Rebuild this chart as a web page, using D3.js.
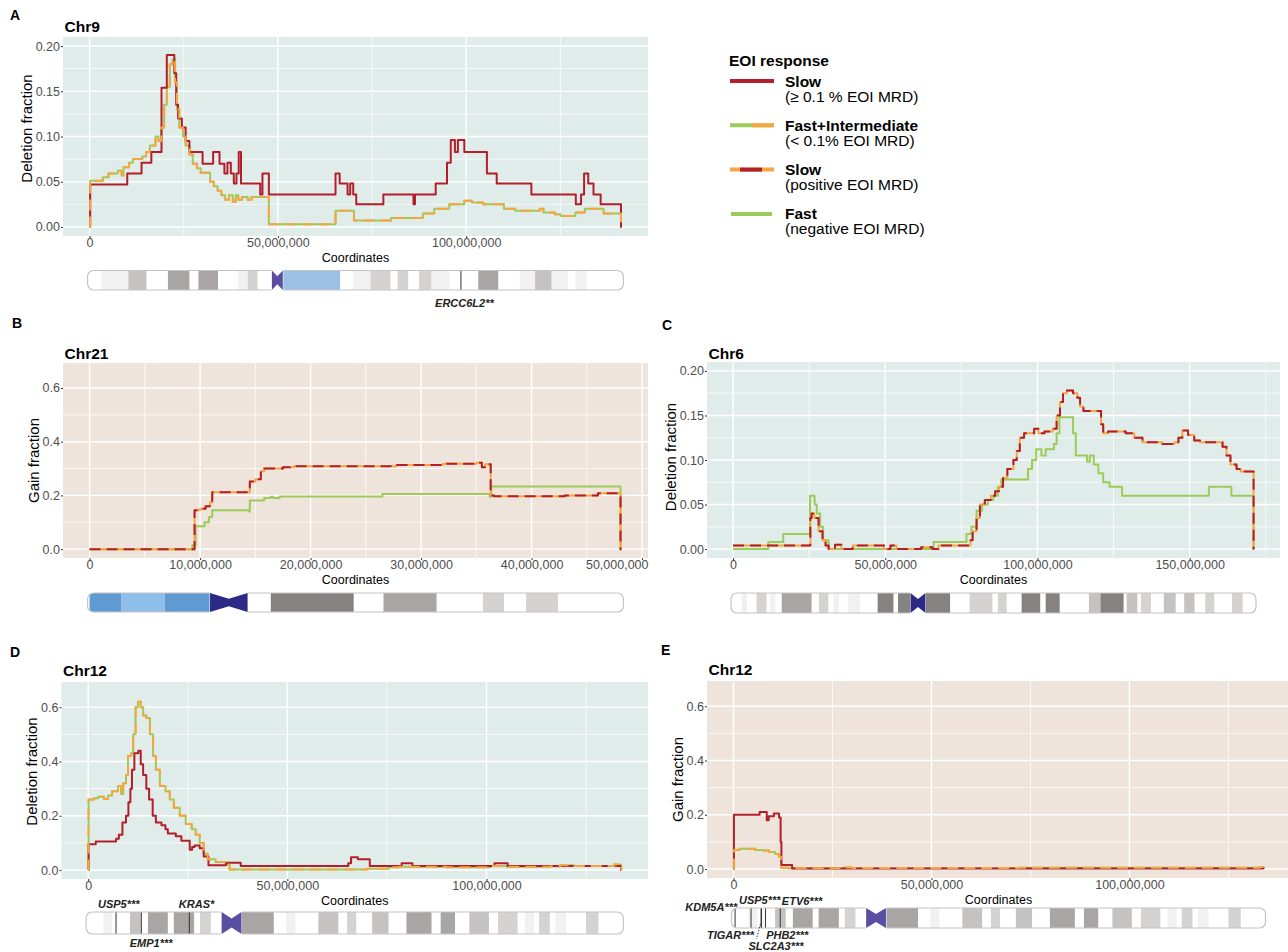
<!DOCTYPE html>
<html>
<head>
<meta charset="utf-8">
<script src="https://cdn.jsdelivr.net/npm/d3@7"></script>
<style>
  body { margin: 0; background: #fff; }
  svg text { font-family: "Liberation Sans", Arial, Helvetica, sans-serif; }
</style>
</head>
<body>
<svg id="fig" width="1288" height="952"></svg>
<script>
// ---------- data: step curves as [position (Mb), fraction] ----------
var chr9Slow = [[0,0],[0.15,0.047],[10.0,0.059],[13.8,0.071],[16.4,0.083],[19.1,0.154],[20.5,0.19],[22.5,0.17],[23.0,0.135],[23.5,0.12],[24.5,0.11],[25.5,0.095],[26.5,0.083],[30.0,0.07],[32.8,0.083],[34.5,0.07],[35.8,0.059],[36.6,0.071],[37.5,0.059],[38.3,0.048],[39.0,0.059],[39.6,0.083],[40.2,0.048],[45.3,0.036],[45.9,0.059],[47.6,0.036],[65.3,0.059],[66.4,0.048],[68.5,0.036],[69.2,0.048],[70.0,0.036],[70.8,0.025],[78.0,0.036],[86.0,0.025],[86.4,0.036],[91.9,0.048],[94.9,0.071],[95.9,0.096],[97.0,0.083],[97.8,0.096],[99.5,0.083],[105.5,0.059],[108.1,0.048],[117.3,0.036],[129.1,0.025],[130.5,0.036],[131.3,0.059],[132.4,0.048],[133.8,0.036],[135.7,0.025],[141.1,0],[141.2,0]];
var chr9FastInt = [[0,0],[0.15,0.051],[3.5,0.055],[5.0,0.059],[7.5,0.062],[8.5,0.057],[9.0,0.066],[10.5,0.071],[11.5,0.075],[14.0,0.078],[15.0,0.083],[16.0,0.09],[17.5,0.1],[18.3,0.095],[19.0,0.11],[19.8,0.135],[20.5,0.155],[21.3,0.18],[22.0,0.185],[22.7,0.16],[23.2,0.13],[23.8,0.11],[24.8,0.1],[25.5,0.09],[26.5,0.08],[27.4,0.07],[28.5,0.065],[29.5,0.06],[31.0,0.06],[32.0,0.05],[33.0,0.045],[34.0,0.04],[35.0,0.035],[36.0,0.03],[37.0,0.035],[38.0,0.028],[38.8,0.035],[39.5,0.03],[40.5,0.033],[42.0,0.03],[43.0,0.033],[47.6,0.003],[65.3,0.018],[70.2,0.007],[80.0,0.01],[88.5,0.015],[91.5,0.02],[95.5,0.025],[99.5,0.029],[101.5,0.027],[104.5,0.025],[110.0,0.02],[113.0,0.018],[119.5,0.02],[120.5,0.016],[123.5,0.014],[125.0,0.012],[129.0,0.016],[131.5,0.02],[136.5,0.015],[141.1,0],[141.2,0]];

var chr21SlowPos = [[0,0],[9.5,0.145],[10.0,0.15],[10.5,0.16],[10.9,0.175],[11.1,0.212],[14.5,0.252],[15.0,0.26],[15.5,0.29],[15.8,0.3],[17.5,0.305],[18.5,0.309],[27.8,0.313],[32.0,0.318],[35.0,0.322],[35.5,0.305],[35.8,0.316],[36.3,0.2],[36.6,0.197],[43.0,0.2],[46.0,0.208],[48.05,0],[48.13,0]];
var chr21Fast = [[0,0],[9.3,0.015],[9.6,0.085],[10.4,0.1],[10.8,0.12],[11.1,0.145],[14.4,0.14],[14.5,0.181],[15.8,0.19],[16.4,0.195],[16.6,0.19],[17.2,0.196],[26.5,0.205],[36.2,0.195],[36.35,0.233],[48.05,0],[48.13,0]];

var chr6SlowPos = [[0,0.004],[25.4,0.035],[25.8,0.04],[26.7,0.035],[28.1,0.02],[29.4,0.01],[30.4,0.004],[31.4,0],[33.5,0.005],[35.6,0],[39.3,0.004],[49.6,0],[51.7,0.004],[53.7,0],[61.8,0.002],[65.5,0],[67.5,0.004],[78.0,0.01],[78.7,0.02],[80.0,0.035],[81.1,0.05],[82.7,0.055],[84.7,0.06],[86.1,0.065],[87.4,0.07],[88.7,0.08],[90.1,0.09],[92.1,0.1],[93.2,0.11],[94.2,0.125],[95.6,0.13],[98.9,0.135],[100.3,0.13],[102.3,0.132],[105.0,0.135],[106.3,0.15],[107.4,0.165],[108.4,0.175],[109.7,0.178],[111.7,0.175],[113.1,0.17],[114.0,0.16],[115.1,0.155],[120.9,0.14],[121.6,0.13],[123.2,0.132],[129.0,0.13],[131.8,0.125],[134.5,0.12],[141.0,0.118],[145.0,0.12],[146.3,0.125],[147.6,0.133],[149.5,0.128],[151.5,0.122],[153.4,0.12],[160.8,0.115],[162.1,0.105],[163.4,0.095],[165.4,0.09],[166.8,0.087],[171.0,0],[171.1,0]];
var chr6Fast = [[0,0],[11.6,0.008],[16.5,0.017],[25.3,0.06],[26.8,0.05],[27.5,0.04],[28.6,0.025],[29.6,0.01],[31.4,0],[65.9,0.008],[76.7,0.017],[78.3,0.025],[80.0,0.043],[81.8,0.05],[83.7,0.055],[85.5,0.06],[87.0,0.07],[88.1,0.078],[96.9,0.09],[98.2,0.1],[99.6,0.112],[101.3,0.105],[102.7,0.112],[105.4,0.118],[106.3,0.13],[107.2,0.148],[111.7,0.13],[112.6,0.105],[116.3,0.098],[117.2,0.105],[118.5,0.095],[120.0,0.085],[121.6,0.075],[123.7,0.07],[127.8,0.06],[156.3,0.07],[163.7,0.06],[171.0,0],[171.1,0]];

var chr12DelSlow = [[0,0],[0.1,0.095],[1.9,0.105],[7.0,0.115],[7.7,0.13],[8.6,0.175],[9.5,0.2],[10.1,0.25],[10.6,0.3],[11.0,0.37],[11.6,0.43],[12.6,0.44],[13.2,0.39],[13.8,0.35],[14.6,0.3],[15.3,0.26],[16.2,0.2],[17.0,0.175],[18.4,0.165],[19.4,0.15],[20.0,0.135],[22.0,0.125],[23.4,0.108],[25.5,0.075],[26.1,0.085],[26.7,0.09],[28.0,0.08],[29.0,0.05],[30.2,0.018],[34.6,0.027],[38.3,0.015],[65.3,0.025],[66.0,0.047],[67.7,0.04],[70.7,0.015],[78.7,0.025],[81.4,0.015],[102.0,0.025],[105.3,0.015],[133.75,0],[133.85,0]];
var chr12DelFastInt = [[0,0],[0.1,0.26],[1.5,0.265],[2.5,0.27],[4.0,0.262],[5.0,0.275],[6.0,0.29],[7.5,0.31],[8.3,0.28],[8.8,0.32],[9.5,0.35],[10.0,0.42],[10.8,0.43],[11.3,0.5],[11.9,0.6],[12.5,0.62],[13.2,0.6],[13.8,0.57],[14.6,0.56],[15.5,0.5],[16.3,0.42],[17.0,0.37],[18.0,0.31],[19.4,0.29],[20.5,0.26],[21.5,0.23],[23.0,0.2],[24.5,0.17],[26.0,0.15],[27.0,0.13],[28.0,0.1],[29.0,0.06],[30.0,0.04],[32.0,0.03],[34.5,0.02],[35.5,0.002],[70.0,0.005],[75.5,0.01],[78.0,0.012],[90.0,0.01],[101.0,0.015],[105.0,0.012],[116.0,0.014],[118.5,0.018],[122.0,0.015],[132.0,0.02],[133.7,0.012],[133.85,0]];

var chr12GainSlow = [[0,0],[0.1,0.2],[6.6,0.21],[8.4,0.18],[8.9,0.195],[10.2,0.205],[11.5,0.19],[11.9,0.1],[12.1,0.015],[14.8,0.002],[133.75,0.002],[133.85,0]];
var chr12GainFastInt = [[0,0],[0.1,0.07],[1.5,0.075],[5.5,0.07],[7.5,0.068],[9.0,0.063],[10.5,0.055],[11.5,0.045],[12.0,0.005],[14.0,0.003],[28.0,0.006],[30.0,0.004],[72.0,0.005],[133.0,0.008],[133.85,0]];

// ---------- cytobands [start Mb, end Mb, stain] and centromeres ----------
var chr9Bands = [[3.2,10.3,"faint"],[10.3,15.1,"gpos50"],[20.8,26.5,"gpos75"],[28.9,34.1,"gpos75"],[39.4,42.0,"faint"],[42.0,44.6,"gpos25"],[51.3,66.5,"gvar"],[69.9,74.6,"faint"],[74.6,79.9,"gpos25"],[81.8,84.6,"gpos25"],[87.5,90.8,"gpos25"],[90.8,95.6,"faint"],[103.2,108.5,"gpos75"],[114.2,118.3,"faint"],[118.3,122.7,"gpos50"],[122.7,127.0,"faint"],[129.0,132.0,"faint"]];
var chr21Bands = [[0,2.9,"stalkA"],[2.9,6.8,"stalkB"],[6.8,10.9,"stalkA"],[16.4,23.9,"gpos100"],[26.6,31.4,"gpos75"],[35.6,37.5,"gpos25"],[39.5,42.4,"gpos25"]];
var chr6Bands = [[2.8,4.6,"faint"],[7.7,11.0,"gpos25"],[12.1,13.9,"faint"],[16.0,25.8,"gpos75"],[28.2,31.3,"gpos25"],[33.0,34.8,"faint"],[37.7,41.7,"faint"],[47.5,52.7,"gpos100"],[54.2,58.3,"gpos100"],[63.2,71.3,"gpos100"],[77.7,85.2,"gpos25"],[87.0,89.9,"gpos25"],[94.8,100.9,"gpos100"],[102.7,107.3,"gpos100"],[116.9,120.7,"gpos50"],[120.7,128.3,"gpos100"],[129.3,132.8,"gpos50"],[134.0,137.3,"gpos25"],[141.5,145.4,"gpos50"],[148.2,151.6,"gpos50"],[155.1,158.1,"gpos25"],[163.9,167.4,"gpos25"]];
var chr12Bands = [[3.8,6.0,"faint"],[10.5,13.2,"gpos50"],[15.0,20.0,"gpos75"],[21.5,26.6,"gpos75"],[28.1,30.8,"gpos25"],[38.5,46.6,"gpos75"],[49.7,52.0,"faint"],[57.8,62.8,"gpos50"],[65.0,67.3,"gpos25"],[71.3,75.4,"gpos50"],[79.9,86.2,"gpos75"],[88.5,92.1,"gpos75"],[95.7,100.6,"gpos50"],[102.9,107.8,"gpos25"],[109.6,111.9,"faint"],[113.2,115.9,"gpos25"],[117.3,120.0,"faint"],[125.0,128.1,"gpos25"]];
var chr9Cen = [48.4, 51.3], chr21Cen = [10.9, 14.3], chr6Cen = [58.3, 63.2], chr12Cen = [33.5, 38.5];

// ---------- genes [name, Mb] ----------
var chr9Genes = [["ERCC6L2**", 98.6]];
var chr12DelGenes = [["USP5***", 7.0], ["EMP1***", 13.35], ["KRAS*", 25.4]];
var chr12GainGenes = [["KDM5A***", 0.4], ["USP5***", 6.96], ["ETV6***", 11.8], ["TIGAR***", 4.43], ["PHB2***", 7.08], ["SLC2A3***", 8.07]];

var yTicksDel = [0, 0.05, 0.10, 0.15, 0.20];
var yTicksGain = [0, 0.2, 0.4, 0.6];

var legendTitle = "EOI response";
var legendLabels = ["Slow", "Fast+Intermediate", "Slow", "Fast"];
var legendSubs = ["(\u2265 0.1 % EOI MRD)", "(< 0.1% EOI MRD)", "(positive EOI MRD)", "(negative EOI MRD)"];
var legendKeys = ["red", "greenOrange", "orangeRed", "green"];

// ---------- styles ----------
var RED = "#B31E2B", GREEN = "#9CCB57", ORANGE = "#F6A540";
var BG_DEL = "#E0ECE9", BG_GAIN = "#EEE4DB";
var stainFill = { faint: "#f1f1f1", gpos25: "#d6d2d2", gpos50: "#c6c2c2", gpos75: "#a9a5a5", gpos100: "#878282",
                  stalkA: "#5f9bd2", stalkB: "#8fbee8", gvar: "#9bbfe5" };

var svg = d3.select("#fig");
var lineW = 2;

var panels = [
  { tag: "A", tagXY: [10, 20], title: "Chr9", titleY: 31.5, len: 141.21, box: [63, 37, 648, 236], yMax: 0.2, yTicks: yTicksDel, yFmt: ".2f",
    xStep: 50, yLab: "Deletion fraction", yLabShift: -8, bg: BG_DEL, kind: "fi", slow: chr9Slow, fast: chr9FastInt,
    ideo: [270.5, 290], bands: chr9Bands, cen: chr9Cen, cenCol: "#5a4ea2", genes: chr9Genes,
    geneLayout: [["below", 3.5, 17]] },
  { tag: "B", tagXY: [12, 328], title: "Chr21", titleY: 358.5, len: 48.13, box: [63, 363, 648, 558], yMax: 0.66, yTicks: yTicksGain, yFmt: ".1f",
    xStep: 10, yLab: "Gain fraction", yLabShift: 0, bg: BG_GAIN, kind: "pos", slow: chr21SlowPos, fast: chr21Fast,
    ideo: [593, 612], bands: chr21Bands, cen: chr21Cen, cenCol: "#2d2a86", genes: [], geneLayout: [] },
  { tag: "C", tagXY: [662, 330], title: "Chr6", titleY: 358.5, len: 171.12, box: [707, 362, 1280, 558], yMax: 0.2, yTicks: yTicksDel, yFmt: ".2f",
    xStep: 50, yLab: "Deletion fraction", yLabShift: -3, bg: BG_DEL, kind: "pos", slow: chr6SlowPos, fast: chr6Fast,
    ideo: [593, 613], bands: chr6Bands, cen: chr6Cen, cenCol: "#2d2a86", genes: [], geneLayout: [] },
  { tag: "D", tagXY: [10, 657], title: "Chr12", titleY: 675.5, len: 133.85, box: [61.5, 682, 648, 879], yMax: 0.66, yTicks: yTicksGain, yFmt: ".1f",
    xStep: 50, yLab: "Deletion fraction", yLabShift: -9, bg: BG_DEL, kind: "fi", slow: chr12DelSlow, fast: chr12DelFastInt,
    ideo: [912, 934], bands: chr12Bands, cen: chr12Cen, cenCol: "#5a4ea2", genes: chr12DelGenes,
    geneLayout: [["above", 2.7, -4.3], ["below", 9.8, 12.7], ["above", 7.2, -4.3]] },
  { tag: "E", tagXY: [661, 655], title: "Chr12", titleY: 674.5, len: 133.85, box: [707, 681, 1290, 878], yMax: 0.66, yTicks: yTicksGain, yFmt: ".1f",
    xStep: 50, yLab: "Gain fraction", yLabShift: 0, bg: BG_GAIN, kind: "fi", slow: chr12GainSlow, fast: chr12GainFastInt,
    ideo: [908, 928], bands: chr12Bands, cen: chr12Cen, cenCol: "#5a4ea2", genes: chr12GainGenes,
    geneLayout: [["above", 2.2, 2.7, "end"], ["above", -1.3, -4], ["above", 21.8, -3], ["below", -20.5, 11], ["below", 25.7, 11], ["below", 10.6, 22, "middle", true]] }
];

function drawPanel(p) {
  var L = p.box[0], T = p.box[1], R = p.box[2], B = p.box[3];
  var lenBp = p.len * 1e6;
  var x = d3.scaleLinear().domain([-0.05 * lenBp, 1.05 * lenBp]).range([L, R]);
  var y = d3.scaleLinear().domain([-0.05 * p.yMax, 1.05 * p.yMax]).range([B, T]);
  var g = svg.append("g").attr("class", "panel-" + p.tag);

  g.append("text").attr("x", p.tagXY[0]).attr("y", p.tagXY[1]).text(p.tag)
    .attr("font-weight", "bold").attr("font-size", 14).attr("fill", "#000");
  g.append("text").attr("x", L + 1.5).attr("y", p.titleY).text(p.title)
    .attr("font-weight", "bold").attr("font-size", 15.5).attr("fill", "#000");

  g.append("rect").attr("x", L).attr("y", T).attr("width", R - L).attr("height", B - T).attr("fill", p.bg);

  // grid
  var stepBp = p.xStep * 1e6;
  var xMajor = d3.range(0, x.domain()[1] + 1, stepBp);
  var xMinor = xMajor.map(function (v) { return v + stepBp / 2; }).filter(function (v) { return v <= x.domain()[1]; });
  var yStep = p.yTicks[1] - p.yTicks[0];
  var yMinor = p.yTicks.map(function (v) { return v + yStep / 2; }).filter(function (v) { return v <= y.domain()[1]; });

  g.selectAll(".xminor").data(xMinor).join("line")
    .attr("x1", function (d) { return x(d); }).attr("x2", function (d) { return x(d); })
    .attr("y1", T).attr("y2", B).attr("stroke", "#fff").attr("stroke-width", 0.7);
  g.selectAll(".yminor").data(yMinor).join("line")
    .attr("x1", L).attr("x2", R).attr("y1", function (d) { return y(d); }).attr("y2", function (d) { return y(d); })
    .attr("stroke", "#fff").attr("stroke-width", 0.7);
  g.selectAll(".xmajor").data(xMajor).join("line")
    .attr("x1", function (d) { return x(d); }).attr("x2", function (d) { return x(d); })
    .attr("y1", T).attr("y2", B).attr("stroke", "#fff").attr("stroke-width", 1.4);
  g.selectAll(".ymajor").data(p.yTicks).join("line")
    .attr("x1", L).attr("x2", R).attr("y1", function (d) { return y(d); }).attr("y2", function (d) { return y(d); })
    .attr("stroke", "#fff").attr("stroke-width", 1.4);

  // series
  var line = d3.line().curve(d3.curveStepAfter)
    .x(function (d) { return x(d[0] * 1e6); })
    .y(function (d) { return y(d[1]); });
  function path(data, col, dash) {
    var pth = g.append("path").attr("d", line(data)).attr("fill", "none")
      .attr("stroke", col).attr("stroke-width", lineW).attr("stroke-linejoin", "round");
    if (dash) pth.attr("stroke-dasharray", dash);
  }
  if (p.kind === "fi") {
    path(p.fast, GREEN);
    path(p.slow, RED);
    path(p.fast, ORANGE, "11,6");
  } else {
    path(p.fast, GREEN);
    path(p.slow, ORANGE);
    path(p.slow, RED, "11,6");
  }

  // axes
  var gy = g.append("g").attr("transform", "translate(" + L + ",0)")
    .call(d3.axisLeft(y).tickValues(p.yTicks).tickFormat(d3.format(p.yFmt)).tickSize(2).tickPadding(1));
  gy.select(".domain").remove();
  gy.attr("font-family", null).attr("font-size", null);
  gy.selectAll(".tick line").attr("stroke", "#333");
  gy.selectAll(".tick text").attr("fill", "#4d4d4d").attr("font-size", 12.5);

  var gx = g.append("g").attr("transform", "translate(0," + B + ")")
    .call(d3.axisBottom(x).tickValues(xMajor).tickFormat(d3.format(",")).tickSize(2).tickPadding(0.3));
  gx.select(".domain").remove();
  gx.attr("font-family", null).attr("font-size", null);
  gx.selectAll(".tick line").attr("stroke", "#333");
  gx.selectAll(".tick text").attr("fill", "#4d4d4d").attr("font-size", 12.5)
    .each(function (d) {
      var w = this.getComputedTextLength();
      if (x(d) + w / 2 > R) d3.select(this).attr("x", R - w / 2 - x(d));
    });

  g.append("text").attr("x", (L + R) / 2).attr("y", B + 25.5).attr("text-anchor", "middle")
    .attr("font-size", 12.5).attr("fill", "#000").text("Coordinates");

  var maxW = d3.max(gy.selectAll(".tick text").nodes(), function (n) { return n.getComputedTextLength(); });
  g.append("text")
    .attr("transform", "translate(" + (L - 7 - maxW) + "," + ((T + B) / 2 + p.yLabShift) + ") rotate(-90)")
    .attr("text-anchor", "middle").attr("font-size", 15).attr("fill", "#000").text(p.yLab);

  drawIdeogram(g, x, p);
}

function drawIdeogram(g, x, p) {
  var top = p.ideo[0], h = p.ideo[1] - p.ideo[0];
  var lenBp = p.len * 1e6;
  var x0 = x(0) - 2, x1 = x(lenBp) + 2;
  var clipId = "ideo-clip-" + p.tag;
  g.append("clipPath").attr("id", clipId).append("rect")
    .attr("x", x0).attr("y", top).attr("width", x1 - x0).attr("height", h).attr("rx", 6);
  var bg = g.append("g").attr("clip-path", "url(#" + clipId + ")");
  bg.append("rect").attr("x", x0).attr("y", top).attr("width", x1 - x0).attr("height", h).attr("fill", "#fff");
  bg.selectAll(".band").data(p.bands).join("rect")
    .attr("x", function (d) { return x(d[0] * 1e6); })
    .attr("width", function (d) { return x(d[1] * 1e6) - x(d[0] * 1e6); })
    .attr("y", top).attr("height", h)
    .attr("fill", function (d) { return stainFill[d[2]]; });
  bg.selectAll(".gene").data(p.genes).join("line")
    .attr("x1", function (d) { return x(d[1] * 1e6); }).attr("x2", function (d) { return x(d[1] * 1e6); })
    .attr("y1", top).attr("y2", top + h).attr("stroke", "#333").attr("stroke-width", 1);

  g.append("rect").attr("x", x0).attr("y", top).attr("width", x1 - x0).attr("height", h).attr("rx", 6)
    .attr("fill", "none").attr("stroke", "#c4c4c4").attr("stroke-width", 1.2);

  // centromere bow-tie
  var c0 = x(p.cen[0] * 1e6), c1 = x(p.cen[1] * 1e6), cm = (c0 + c1) / 2, pinch = h * 0.3;
  g.append("rect").attr("x", c0 - 0.5).attr("y", top - 2).attr("width", c1 - c0 + 1).attr("height", h + 4).attr("fill", "#fff");
  g.append("path")
    .attr("d", "M" + c0 + "," + top + "L" + cm + "," + (top + pinch) + "L" + c1 + "," + top +
               "L" + c1 + "," + (top + h) + "L" + cm + "," + (top + h - pinch) + "L" + c0 + "," + (top + h) + "Z")
    .attr("fill", p.cenCol);

  // gene labels
  p.genes.forEach(function (gn, i) {
    var lay = p.geneLayout[i];
    var gxp = x(gn[1] * 1e6);
    var yb = lay[0] === "above" ? top + lay[2] : top + h + lay[2];
    g.append("text").attr("x", gxp + lay[1]).attr("y", yb)
      .attr("text-anchor", lay[3] || "middle")
      .attr("font-size", 11).attr("font-weight", "bold").attr("font-style", "italic").attr("fill", "#222")
      .text(gn[0]);
    if (lay[4]) {
      g.append("line").attr("x1", gxp - 5).attr("y1", top + h - 4).attr("x2", gxp - 9).attr("y2", yb - 11)
        .attr("stroke", "#333").attr("stroke-width", 1).attr("stroke-dasharray", "1.5,1.5");
    }
  });
}

panels.forEach(drawPanel);

// ---------- legend ----------
var lg = svg.append("g").attr("class", "legend");
lg.append("text").attr("x", 729).attr("y", 66).attr("font-weight", "bold").attr("font-size", 15.5).text(legendTitle);
legendKeys.forEach(function (k, i) {
  var ky = 81 + i * 44.3, kx0 = 730, kx1 = 774;
  function seg(a, b, col) {
    lg.append("line").attr("x1", a).attr("x2", b).attr("y1", ky).attr("y2", ky)
      .attr("stroke", col).attr("stroke-width", 4);
  }
  if (k === "red") seg(kx0, kx1, RED);
  else if (k === "greenOrange") { seg(kx0, kx1, GREEN); seg(kx0 + 22, kx1, ORANGE); }
  else if (k === "orangeRed") { seg(kx0, kx1, ORANGE); seg(kx0 + 10, kx0 + 32, RED); }
  else seg(kx0 + 1, kx1 - 2, GREEN);
  lg.append("text").attr("x", 785).attr("y", ky + 5.5).attr("font-weight", "bold").attr("font-size", 15.5).text(legendLabels[i]);
  lg.append("text").attr("x", 785).attr("y", ky + 20.5).attr("font-size", 15.5).text(legendSubs[i]);
});
</script>
</body>
</html>
